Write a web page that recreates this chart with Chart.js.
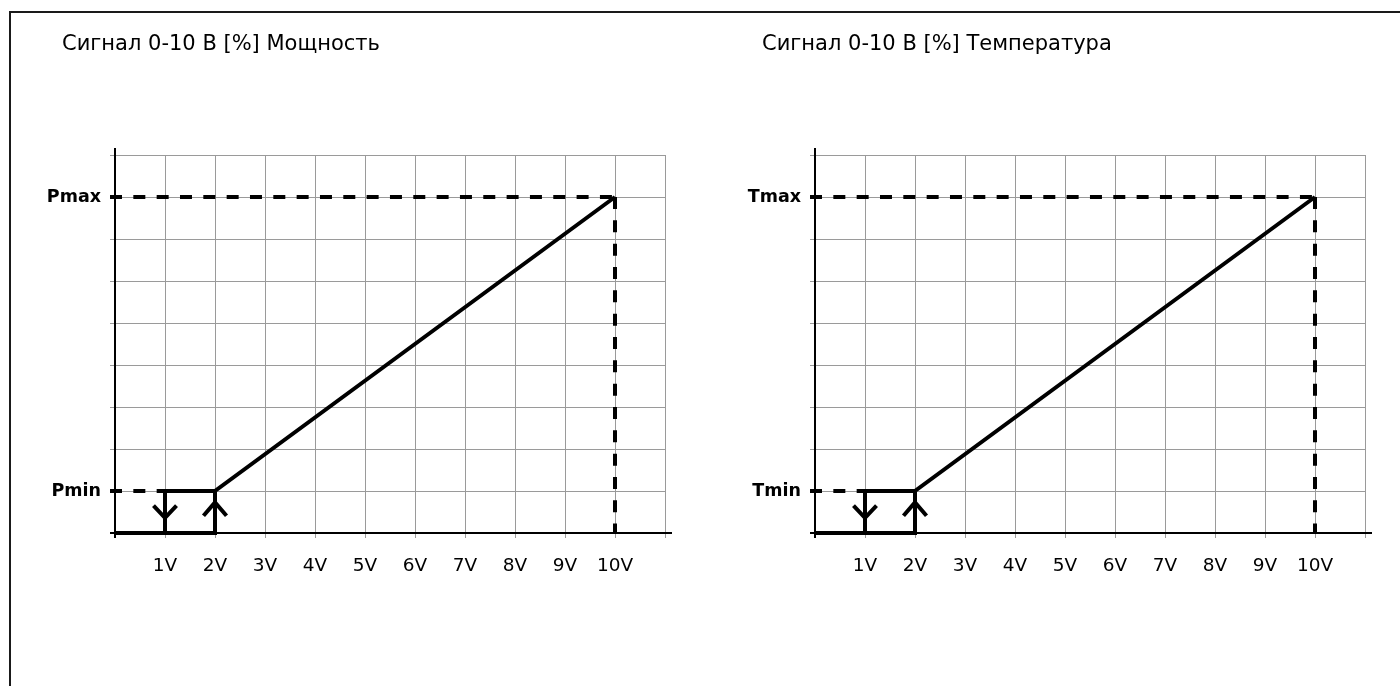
<!DOCTYPE html>
<html><head><meta charset="utf-8">
<script src="https://cdn.jsdelivr.net/npm/chart.js@4.4.1/dist/chart.umd.min.js"></script>
<style>
html,body{margin:0;padding:0;background:#fff;overflow:hidden;width:1400px;height:686px}
#frame{position:absolute;left:9px;top:11px;width:1400px;height:700px;border-left:2px solid #1a1a1a;border-top:2px solid #1a1a1a}
#c1{position:absolute;left:11px;top:13px}
#c2{position:absolute;left:711px;top:13px}
</style></head><body>
<div id="frame"></div>
<canvas id="c1" width="700" height="673"></canvas>
<canvas id="c2" width="689" height="673"></canvas>
<script>
// ---- data ----
const voltageTicks = [1, 2, 3, 4, 5, 6, 7, 8, 9, 10];
const xRange = [0, 11];
const yRange = [0, 9];
const powerTitle = 'Сигнал 0-10 В [%] Мощность';
const tempTitle = 'Сигнал 0-10 В [%] Температура';
const powerLevelLabels = ['Pmin', 'Pmax'];
const tempLevelLabels = ['Tmin', 'Tmax'];
const levelValues = [1, 8];
const solidPathX = [0, 2, 2, 10];
const solidPathY = [0, 0, 1, 8];
const hysteresisX = [1, 1, 2];
const hysteresisY = [0, 1, 1];
const minDashX = [-0.1, 1];
const minDashY = [1, 1];
const maxDashX = [-0.1, 10];
const maxDashY = [8, 8];
const endDashX = [10, 10];
const endDashY = [8, 0];
const downArrowX = [0.77, 1, 1.23];
const downArrowY = [0.65, 0.36, 0.65];
const upArrowX = [1.77, 2, 2.23];
const upArrowY = [0.41, 0.73, 0.41];

const zip = (xs, ys) => xs.map((x, i) => ({x, y: ys[i]}));
const FONT = "'DejaVu Sans', 'Liberation Sans', Arial, sans-serif";

Chart.defaults.font.family = FONT;
Chart.defaults.color = '#000';

const titlePlugin = {
  id: 'panelTitle',
  afterDraw(chart, args, opts) {
    const {ctx} = chart;
    ctx.save();
    ctx.font = '21px ' + FONT;
    ctx.fillStyle = '#000';
    ctx.textAlign = 'left';
    ctx.textBaseline = 'alphabetic';
    ctx.fillText(opts.text, chart.chartArea.left - 53, 37);
    ctx.restore();
  }
};

const axesPlugin = {
  id: 'axesLines',
  beforeDatasetsDraw(chart) {
    const {ctx} = chart;
    const xs = chart.scales.x, ys = chart.scales.y;
    const x0 = xs.getPixelForValue(xRange[0]);
    const x1 = xs.getPixelForValue(xRange[1]);
    const y0 = ys.getPixelForValue(yRange[0]);
    const y1 = ys.getPixelForValue(yRange[1]);
    ctx.save();
    ctx.strokeStyle = '#000';
    ctx.lineWidth = 2;
    ctx.beginPath();
    ctx.moveTo(x0, y1 - 7); ctx.lineTo(x0, y0 + 5);
    ctx.moveTo(x0 - 5, y0); ctx.lineTo(x1 + 7, y0);
    ctx.stroke();
    ctx.restore();
  }
};

function makeChart(id, title, levelLabels, rightPad) {
  const solid = {borderColor: '#000', borderWidth: 4, pointRadius: 0, showLine: true, clip: false, fill: false};
  const dashed = {borderColor: '#000', borderWidth: 4, pointRadius: 0, showLine: true, clip: false, fill: false, borderDash: [12, 11.33]};
  return new Chart(document.getElementById(id), {
    type: 'scatter',
    data: {
      datasets: [
        Object.assign({data: zip(minDashX, minDashY)}, dashed),
        Object.assign({data: zip(maxDashX, maxDashY)}, dashed),
        Object.assign({data: zip(endDashX, endDashY)}, dashed),
        Object.assign({data: zip(solidPathX, solidPathY)}, solid),
        Object.assign({data: zip(hysteresisX, hysteresisY)}, solid),
        Object.assign({data: zip(downArrowX, downArrowY)}, solid),
        Object.assign({data: zip(upArrowX, upArrowY)}, solid)
      ]
    },
    options: {
      responsive: false,
      animation: false,
      events: [],
      layout: {padding: {left: 0, top: 142, right: rightPad, bottom: 93}},
      plugins: {
        legend: {display: false},
        tooltip: {enabled: false},
        title: {display: false},
        panelTitle: {text: title}
      },
      scales: {
        x: {
          type: 'linear', min: xRange[0], max: xRange[1],
          afterFit(s) { s.height = 60; },
          border: {display: false},
          grid: {color: '#9a9a9a', lineWidth: 1, tickLength: 5, drawTicks: true},
          ticks: {
            stepSize: 1, autoSkip: false, maxRotation: 0, padding: 17,
            color: '#000', font: {size: 18.5},
            callback: v => voltageTicks.includes(v) ? v + 'V' : ''
          }
        },
        y: {
          type: 'linear', min: yRange[0], max: yRange[1],
          afterFit(s) { s.width = 104; },
          border: {display: false},
          grid: {color: '#9a9a9a', lineWidth: 1, tickLength: 5, drawTicks: true},
          ticks: {
            stepSize: 1, autoSkip: false, padding: 9,
            color: '#000', font: {size: 17.5, weight: 'bold'},
            callback: v => { const i = levelValues.indexOf(v); return i >= 0 ? levelLabels[i] : ''; }
          }
        }
      }
    },
    plugins: [titlePlugin, axesPlugin]
  });
}

makeChart('c1', powerTitle, powerLevelLabels, 46);
makeChart('c2', tempTitle, tempLevelLabels, 35);
</script>
</body></html>
